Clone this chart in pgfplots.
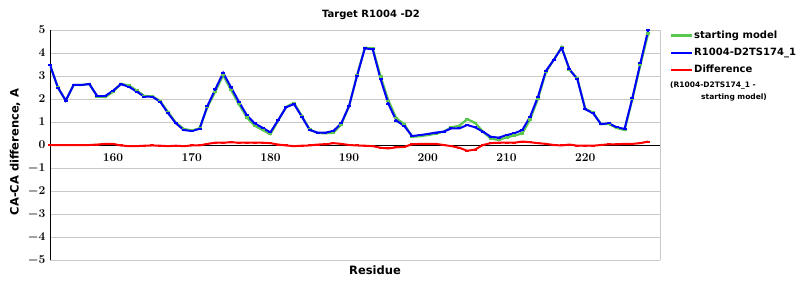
\documentclass[border=0pt]{standalone}
\usepackage{pgfplots}
\pgfplotsset{compat=1.18}
\usepackage{pgfplotstable}
\usepackage{fontspec}
\setmainfont{DejaVu Sans}
\definecolor{smgreen}{RGB}{90,200,80}
\definecolor{gridgray}{RGB}{200,200,200}
\pgfplotstableread{
r start model diff
152 3.48 3.48 0.00
153 2.50 2.50 0.00
154 1.93 1.93 0.00
155 2.61 2.61 0.00
156 2.61 2.61 0.00
157 2.65 2.65 0.00
158 2.11 2.13 0.02
159 2.08 2.13 0.05
160 2.31 2.36 0.05
161 2.66 2.64 -0.02
162 2.59 2.54 -0.05
163 2.37 2.32 -0.05
164 2.13 2.10 -0.03
165 2.12 2.10 -0.02
166 1.91 1.88 -0.03
167 1.43 1.38 -0.05
168 0.97 0.94 -0.03
169 0.70 0.65 -0.05
170 0.63 0.61 -0.02
171 0.72 0.70 -0.02
172 1.65 1.70 0.05
173 2.32 2.42 0.10
174 3.04 3.14 0.10
175 2.39 2.51 0.12
176 1.78 1.88 0.10
177 1.20 1.30 0.10
178 0.84 0.94 0.10
179 0.65 0.75 0.10
180 0.47 0.55 0.08
181 1.07 1.09 0.02
182 1.66 1.64 -0.02
183 1.83 1.78 -0.05
184 1.26 1.23 -0.03
185 0.67 0.65 -0.02
186 0.52 0.54 0.02
187 0.51 0.54 0.03
188 0.53 0.61 0.08
189 0.89 0.94 0.05
190 1.70 1.70 0.00
191 3.02 3.00 -0.02
192 4.23 4.20 -0.03
193 4.21 4.16 -0.05
194 2.98 2.86 -0.12
195 1.93 1.78 -0.15
196 1.16 1.06 -0.10
197 0.91 0.83 -0.08
198 0.36 0.39 0.03
199 0.38 0.43 0.05
200 0.43 0.48 0.05
201 0.49 0.54 0.05
202 0.58 0.58 0.00
203 0.77 0.72 -0.05
204 0.84 0.72 -0.12
205 1.12 0.87 -0.25
206 0.97 0.77 -0.20
207 0.58 0.58 0.00
208 0.28 0.36 0.08
209 0.22 0.32 0.10
210 0.33 0.43 0.10
211 0.41 0.51 0.10
212 0.50 0.65 0.15
213 1.11 1.23 0.12
214 2.02 2.10 0.08
215 3.17 3.22 0.05
216 3.70 3.70 0.00
217 4.25 4.23 -0.02
218 3.27 3.29 0.02
219 2.89 2.86 -0.03
220 1.58 1.55 -0.03
221 1.41 1.38 -0.03
222 0.91 0.91 0.00
223 0.91 0.94 0.03
224 0.74 0.77 0.03
225 0.65 0.70 0.05
226 2.01 2.06 0.05
227 3.47 3.55 0.08
228 4.85 5.00 0.15
}\datatable
\begin{document}
\begin{tikzpicture}
\begin{axis}[
  name=ax,
  scale only axis,
  width=610pt, height=230pt,
  xmin=152, xmax=229.5,
  ymin=-5, ymax=5,
  axis x line=middle,
  axis y line=left,
  axis line style={-, black, line width=0.8pt},
  xtick={160,170,...,220},
  ytick={-5,-4,...,5},
  major tick length=0pt,
  ymajorgrids,
  major grid style={gridgray, line width=0.8pt},
  extra x ticks={229.5},
  extra x tick labels={},
  extra x tick style={grid=major, major grid style={gridgray, line width=0.8pt}},
  tick label style={font=\boldmath\fontsize{12.5}{14}\selectfont},
  xticklabel style={yshift=-5pt},
  yticklabel style={xshift=-1pt},
  legend style={at={(rel axis cs:1.0164,1.0)}, anchor=north west, draw=none, fill=none,
    inner sep=0pt, outer sep=0pt, row sep=6pt,
    font=\bfseries\fontsize{10}{12}\selectfont,
    nodes={inner sep=1pt}},
  legend cell align=left,
  legend image code/.code={\draw[#1] (0pt,0pt) -- (21pt,0pt);},
  clip=true,
]
\addplot[smgreen, line width=2.2pt, mark=-, mark size=2pt, forget plot] table[x=r, y=start] {\datatable};
\addplot[blue, line width=2pt, mark=-, mark size=2pt, forget plot] table[x=r, y=model] {\datatable};
\addplot[red, line width=2pt, mark=-, mark size=2pt, forget plot] table[x=r, y=diff] {\datatable};
\addlegendimage{smgreen, line width=2.2pt}
\addlegendentry{starting model}
\addlegendimage{blue, line width=2pt}
\addlegendentry{R1004-D2TS174\_1}
\addlegendimage{red, line width=2pt}
\addlegendentry{Difference}
\end{axis}
\node[font=\bfseries\fontsize{10}{12}\selectfont] at ([shift={(321pt,245pt)}]ax.south west) {Target R1004 -D2};
\node[font=\bfseries\fontsize{11.5}{13}\selectfont] at ([shift={(325pt,-10pt)}]ax.south west) {Residue};
\node[font=\bfseries\fontsize{11.5}{13}\selectfont, rotate=90] at ([shift={(-35pt,108pt)}]ax.south west) {CA-CA difference, A};
\node[font=\bfseries\fontsize{7.5}{9}\selectfont, anchor=west, inner sep=0pt] at ([shift={(620pt,174pt)}]ax.south west) {(R1004-D2TS174\_1 -};
\node[font=\bfseries\fontsize{7.5}{9}\selectfont, anchor=west, inner sep=0pt] at ([shift={(651pt,162.5pt)}]ax.south west) {starting model)};
\pgfresetboundingbox
\path[use as bounding box] ([shift={(-50pt,-40pt)}]ax.south west) rectangle ([shift={(750pt,260pt)}]ax.south west);
\end{tikzpicture}
\end{document}
